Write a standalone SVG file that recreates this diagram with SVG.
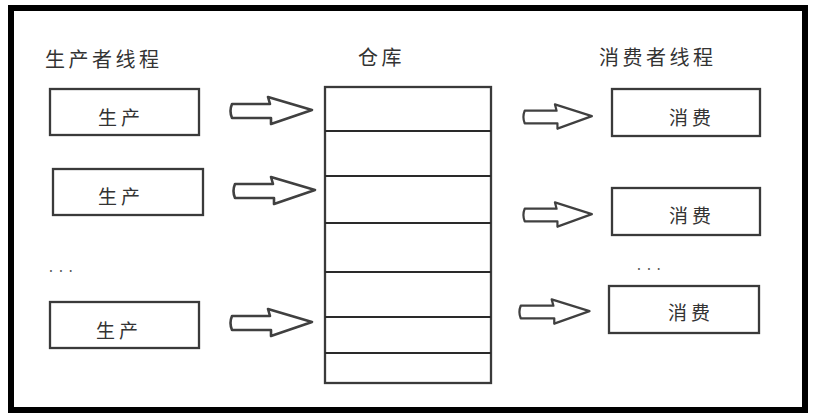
<svg xmlns="http://www.w3.org/2000/svg" xmlns:xlink="http://www.w3.org/1999/xlink" width="813" height="420" viewBox="0 0 813 420">
<style>
text{font-family:"Noto Sans CJK SC","Liberation Sans",sans-serif;fill:#333}
.title{font-size:20px;letter-spacing:3.5px}
.lbl{font-size:19px;letter-spacing:4px;text-anchor:middle}
.box{fill:#fff;stroke:#3a3a3a;stroke-width:2.3}
.arr{fill:#fff;stroke:#404040;stroke-width:2.6;stroke-linejoin:round}
.shelf{stroke:#2a2a2a;stroke-width:2}
.dots{font-size:14px;fill:#555;letter-spacing:6px}
</style>
<defs>
<path id="arrow" class="arr" d="M2,-7 L40,-7 L38,-14 L82,-1 L41,13 L41,7 L2,7 Q-1,0 2,-7 Z"/>
</defs>
<rect x="0" y="0" width="813" height="420" fill="#fff"/>
<rect x="11" y="8" width="794" height="402" fill="#fff" stroke="#000" stroke-width="6"/>

<g id="titles">
<text class="title" x="45" y="67">生产者线程</text>
<text class="title" x="358" y="65">仓库</text>
<text class="title" x="599" y="65">消费者线程</text>
</g>

<g id="producer1"><rect class="box" x="50" y="89" width="149" height="46"/><text class="lbl" x="121" y="125">生产</text></g>
<g id="producer2"><rect class="box" x="53" y="169" width="150" height="46"/><text class="lbl" x="121" y="204">生产</text></g>
<g id="producer-dots"><text class="dots" x="49" y="272">...</text></g>
<g id="producer3"><rect class="box" x="50" y="302" width="149" height="46"/><text class="lbl" x="119" y="338">生产</text></g>

<g id="warehouse">
<rect class="box" x="325" y="87" width="166" height="296" stroke-width="2.4"/>
<line class="shelf" x1="325" y1="131" x2="491" y2="131"/>
<line class="shelf" x1="325" y1="176" x2="491" y2="176"/>
<line class="shelf" x1="325" y1="223" x2="491" y2="223"/>
<line class="shelf" x1="325" y1="272" x2="491" y2="272"/>
<line class="shelf" x1="325" y1="317" x2="491" y2="317"/>
<line class="shelf" x1="325" y1="353" x2="491" y2="353"/>
</g>

<g id="consumer1"><rect class="box" x="612" y="89" width="148" height="47"/><text class="lbl" x="692" y="125">消费</text></g>
<g id="consumer2"><rect class="box" x="612" y="188" width="148" height="47"/><text class="lbl" x="692" y="223">消费</text></g>
<g id="consumer-dots"><text class="dots" x="637" y="270">...</text></g>
<g id="consumer3"><rect class="box" x="609" y="286" width="150" height="47"/><text class="lbl" x="691" y="320">消费</text></g>

<g id="connectors">
<use xlink:href="#arrow" transform="translate(230,111)"/>
<use xlink:href="#arrow" transform="translate(233,191)"/>
<use xlink:href="#arrow" transform="translate(230,323)"/>
<use xlink:href="#arrow" transform="translate(523,117) scale(0.84,0.9)"/>
<use xlink:href="#arrow" transform="translate(523,215) scale(0.84,0.9)"/>
<use xlink:href="#arrow" transform="translate(519,312) scale(0.86,0.9)"/>
</g>
</svg>
